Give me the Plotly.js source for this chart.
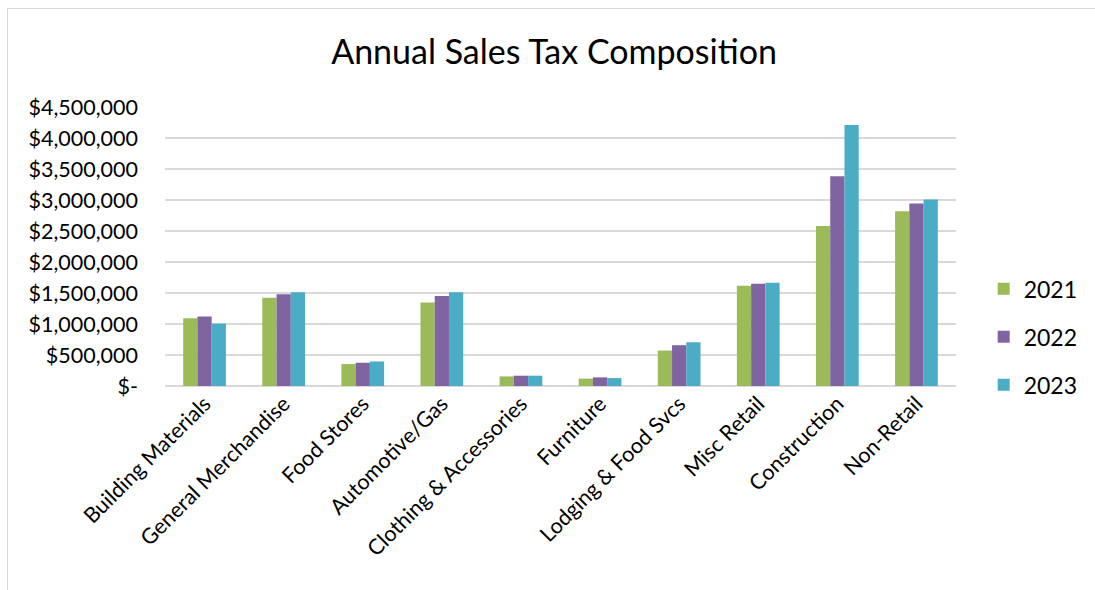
<!DOCTYPE html>
<html>
<head>
<meta charset="utf-8">
<script src="https://cdn.plot.ly/plotly-3.0.1.min.js"></script>
<style>
  html, body { margin: 0; padding: 0; background: #fff; }
  #wrap { position: relative; width: 1095px; height: 590px; overflow: hidden; }
  #chart { position: absolute; left: 0; top: 0; width: 1095px; height: 590px; }
  #frame { position: absolute; left: 7px; top: 8px; width: 1200px; height: 700px; border: 1px solid #d9d9d9; pointer-events: none; }
</style>
</head>
<body>
<div id="wrap"><div id="chart"></div><div id="frame"></div></div>
<script>
const categories = ["Building Materials", "General Merchandise", "Food Stores", "Automotive/Gas",
  "Clothing & Accessories", "Furniture", "Lodging & Food Svcs", "Misc Retail", "Construction", "Non-Retail"];
const sales2021 = [1093000, 1425000, 354000, 1345000, 155000, 118000, 572000, 1618000, 2579000, 2820000];
const sales2022 = [1120000, 1479000, 375000, 1452000, 166000, 139000, 658000, 1650000, 3383000, 2944000];
const sales2023 = [1007000, 1511000, 396000, 1511000, 166000, 128000, 706000, 1666000, 4209000, 3008000];
const seriesNames = ["2021", "2022", "2023"];
const seriesColors = ["#9bbb59", "#8064a2", "#4bacc6"];
const yTickVals = [0, 500000, 1000000, 1500000, 2000000, 2500000, 3000000, 3500000, 4000000, 4500000];
const yTickText = ["$-", "$500,000", "$1,000,000", "$1,500,000", "$2,000,000", "$2,500,000", "$3,000,000", "$3,500,000", "$4,000,000", "$4,500,000"];

const font = "Lato, 'Open Sans', sans-serif";
const values = [sales2021, sales2022, sales2023];
const traces = values.map((v, i) => ({
  type: "bar", x: categories, y: v, name: seriesNames[i],
  marker: { color: seriesColors[i], line: { width: 0 } },
  legendgroup: "g" + i, hoverinfo: "x+y"
}));

const layout = {
  width: 1095, height: 590,
  margin: { l: 165, r: 135, t: 107, b: 204 },
  paper_bgcolor: "#ffffff", plot_bgcolor: "#ffffff",
  title: { text: "Annual Sales Tax Composition", font: { family: font, size: 34, color: "#000" }, x: 0.506, xanchor: "center", y: 0.912, yanchor: "middle" },
  barmode: "group", bargap: 0.46, bargroupgap: 0,
  xaxis: {
    tickangle: -45, tickfont: { family: font, size: 21.5, color: "#000" },
    showline: false, ticks: "", showgrid: false, automargin: false
  },
  yaxis: {
    range: [0, 4500000], tickvals: yTickVals, ticktext: yTickText,
    tickfont: { family: font, size: 21.5, color: "#000" },
    gridcolor: "#d9d9d9", gridwidth: 1.5, zeroline: true, zerolinecolor: "#d9d9d9", zerolinewidth: 1.5,
    showline: false, ticks: "", ticklabelstandoff: 26, automargin: false
  },
  legend: {
    x: 1.035, xanchor: "left", y: 0.176, yanchor: "middle",
    font: { family: font, size: 23, color: "#000" },
    traceorder: "grouped", tracegroupgap: 15, itemwidth: 30
  },
  showlegend: true
};

Plotly.newPlot("chart", traces, layout, { displayModeBar: false, staticPlot: true });
</script>
</body>
</html>
